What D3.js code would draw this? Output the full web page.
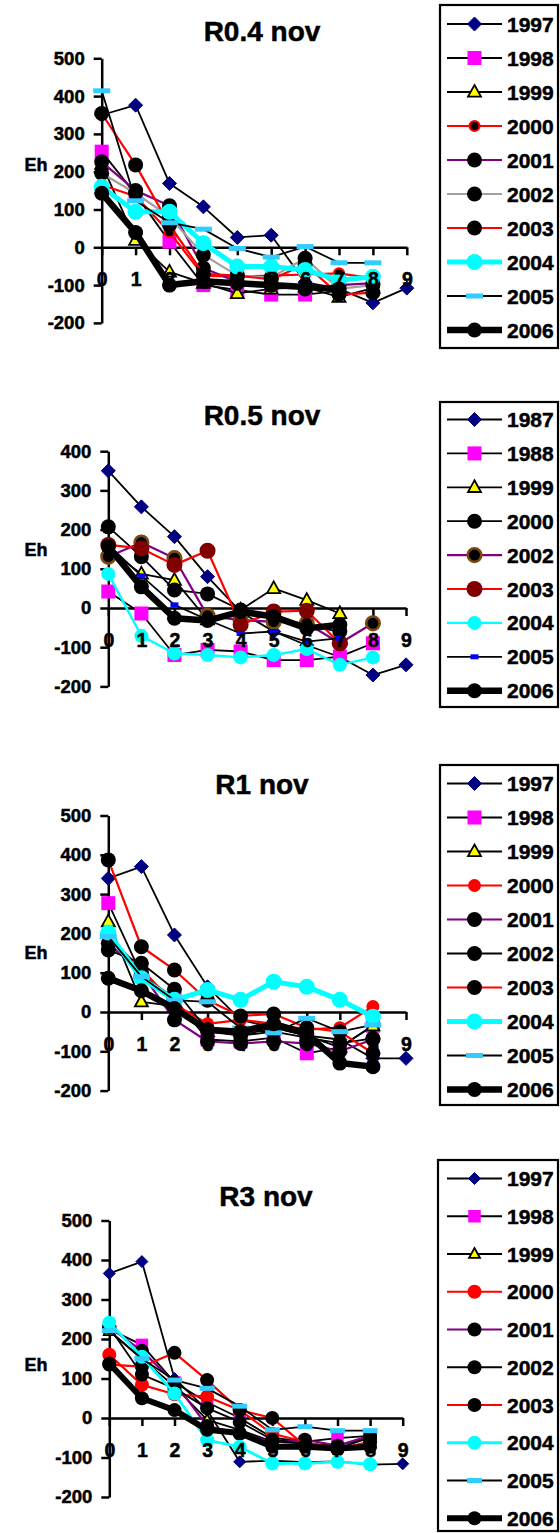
<!DOCTYPE html>
<html>
<head>
<meta charset="utf-8">
<script src="https://cdn.jsdelivr.net/npm/d3@7"></script>
<style>
  html, body { margin: 0; padding: 0; background: #fff; }
</style>
</head>
<body>
<script>
// ---- Data ---------------------------------------------------------------
const categories = [0, 1, 2, 3, 4, 5, 6, 7, 8, 9];

// R0.4 nov
const r04Ticks = [-200, -100, 0, 100, 200, 300, 400, 500];
const r04Years = ["1997", "1998", "1999", "2000", "2001", "2002", "2003", "2004", "2005", "2006"];
const r04_1997 = [350, 376, 169, 107, 26, 32, -92, -110, -147, -108];
const r04_1998 = [253, 140, 15, -100, -113, -125, -125, -115, null, null];
const r04_1999 = [220, 19, -65, -95, -122, -110, -105, -132, -108, null];
const r04_2000 = [165, 135, 40, -75, -78, -75, -72, -69, -82, null];
const r04_2001 = [226, 150, 110, -55, -92, -100, -110, -100, -95, null];
const r04_2002 = [196, 143, 81, -20, -75, -80, -29, -110, -100, null];
const r04_2003 = [354, 218, 59, -70, -75, -85, -45, -125, -120, null];
const r04_2004 = [160, 94, 94, 11, -51, -51, -60, -87, -78, null];
const r04_2005 = [414, 123, 65, 48, -3, -26, 2, -41, -41, null];
const r04_2006 = [143, 39, -100, -90, -95, -100, -105, -110, null, null];

// R0.5 nov
const r05Ticks = [-200, -100, 0, 100, 200, 300, 400];
const r05Years = ["1987", "1988", "1999", "2000", "2002", "2003", "2004", "2005", "2006"];
const r05_1987 = [350, 258, 182, 80, -10, -60, -95, -125, -171, -145];
const r05_1988 = [42, -14, -120, -107, -111, -133, -133, -124, -90, null];
const r05_1999 = [150, 87, 71, -30, -5, 50, 20, -14, null, null];
const r05_2000 = [207, 131, 46, 36, -5, -20, -45, -60, null, null];
const r05_2002 = [131, 167, 127, -20, -31, -35, -39, -90, -39, null];
const r05_2003 = [161, 152, 110, 146, -43, -9, -7, -90, null, null];
const r05_2004 = [87, -71, -116, -120, -126, -120, -105, -145, -126, null];
const r05_2005 = [161, 82, 8, -30, -65, -60, -86, -77, null, null];
const r05_2006 = [157, 54, -26, -32, -9, -22, -52, -43, null, null];

// R1 nov
const r1Ticks = [-200, -100, 0, 100, 200, 300, 400, 500];
const r1Years = ["1997", "1998", "1999", "2000", "2001", "2002", "2003", "2004", "2005", "2006"];
const r1_1997 = [340, 370, 196, 64, -20, -40, -60, -70, -118, -118];
const r1_1998 = [277, 95, 35, -70, -75, -65, -105, -90, -35, null];
const r1_1999 = [230, 26, 15, -50, -60, -40, -60, -90, -35, null];
const r1_2000 = [190, 110, 20, -30, -20, -30, -45, -40, 14, null];
const r1_2001 = [175, 100, -20, -75, -80, -75, -80, -100, -70, null];
const r1_2002 = [158, 124, 58, -46, -60, -50, -65, -80, -67, null];
const r1_2003 = [387, 166, 107, 30, -10, -5, -40, -50, -105, null];
const r1_2004 = [202, 86, 31, 56, 31, 77, 64, 31, -12, null];
const r1_2005 = [192, 90, 30, 26, -41, -53, -16, -50, -33, null];
const r1_2006 = [86, 54, 9, -45, -50, -30, -55, -130, -139, null];

// R3 nov
const r3Ticks = [-200, -100, 0, 100, 200, 300, 400, 500];
const r3Years = ["1997", "1998", "1999", "2000", "2001", "2002", "2003", "2004", "2005", "2006"];
const r3_1997 = [366, 396, 100, 20, -111, -108, -112, -110, -118, -116];
const r3_1998 = [225, 185, 90, 40, 0, -50, -60, -51, -45, null];
const r3_1999 = [220, 150, 80, -5, -30, -60, -65, -70, -50, null];
const r3_2000 = [160, 84, 60, 54, 20, -40, -60, -80, -60, null];
const r3_2001 = [230, 170, 90, -20, -40, -60, -55, -70, -45, null];
const r3_2002 = [230, 110, 75, 25, -10, -55, -65, -77, -50, null];
const r3_2003 = [135, 130, 165, 96, 20, 0, -70, -80, -60, null];
const r3_2004 = [241, 155, 62, -56, -73, -115, -115, -111, -117, null];
const r3_2005 = [221, 150, 96, 75, 30, -30, -22, -32, -32, null];
const r3_2006 = [138, 50, 20, -30, -38, -73, -73, -77, -73, null];

// ---- Series styles ------------------------------------------------------
const S = {
  diamond: { shape: "diamond", fill: "#000080", size: 7, line: "#000", lw: 1.8 },
  square:  { shape: "square", fill: "#FF00FF", size: 14, line: "#000", lw: 1.8 },
  tri:     { shape: "triangle", fill: "#FFFF00", stroke: "#000", size: 13, line: "#000", lw: 1.8 },
  dot: (line, lw, fill, r, stroke, sw) => ({ shape: "circle", fill, r, stroke, sw, line, lw }),
  dash: (fill, w, h) => ({ shape: "dash", fill, w, h, line: "#000", lw: 1.8 })
};

const panels = [
  {
    title: "R0.4 nov", titleX: 262, titleY: 41, ticks: r04Ticks,
    xRange: [101.7, 406.8], yRange: [322.9, 58.3], ehY: 171,
    legend: { x: 440, y: 5, w: 118, h: 343, row0: 24, step: 34 },
    names: r04Years,
    values: [r04_1997, r04_1998, r04_1999, r04_2000, r04_2001, r04_2002, r04_2003, r04_2004, r04_2005, r04_2006],
    styles: [
      S.diamond, S.square, S.tri,
      S.dot("#FF0000", 2.2, "#000", 5, "#FF0000", 2.2),
      S.dot("#800080", 2.2, "#000", 7.5),
      S.dot("#A0A0A0", 2.2, "#000", 7.5),
      S.dot("#FF0000", 2.2, "#000", 7.5),
      S.dot("#00FFFF", 5, "#00FFFF", 8),
      S.dash("#33CCFF", 17, 5),
      S.dot("#000", 6.5, "#000", 7.5)
    ]
  },
  {
    title: "R0.5 nov", titleX: 262, titleY: 425, ticks: r05Ticks,
    xRange: [108.3, 406], yRange: [686.4, 451.2], ehY: 556,
    legend: { x: 440, y: 402, w: 118, h: 305, row0: 419.5, step: 33.9 },
    names: r05Years,
    values: [r05_1987, r05_1988, r05_1999, r05_2000, r05_2002, r05_2003, r05_2004, r05_2005, r05_2006],
    styles: [
      S.diamond, S.square, S.tri,
      S.dot("#000", 1.8, "#000", 7.5),
      S.dot("#800080", 2.2, "#000", 6.8, "#7A4A10", 2.6),
      S.dot("#FF0000", 2.2, "#800000", 8),
      S.dot("#00FFFF", 2.4, "#00FFFF", 7),
      S.dash("#0000FF", 8, 5),
      S.dot("#000", 6.5, "#000", 7.5)
    ]
  },
  {
    title: "R1 nov", titleX: 262, titleY: 794, ticks: r1Ticks,
    xRange: [108.3, 406], yRange: [1090.6, 815.5], ehY: 959,
    legend: { x: 440, y: 765, w: 118, h: 340, row0: 783.5, step: 34 },
    names: r1Years,
    values: [r1_1997, r1_1998, r1_1999, r1_2000, r1_2001, r1_2002, r1_2003, r1_2004, r1_2005, r1_2006],
    styles: [
      S.diamond, S.square, S.tri,
      S.dot("#FF0000", 2.2, "#FF0000", 6.5),
      S.dot("#800080", 2.2, "#000", 7.5),
      S.dot("#000", 1.8, "#000", 7.5),
      S.dot("#FF0000", 2.2, "#000", 7.5),
      S.dot("#00FFFF", 5, "#00FFFF", 8),
      S.dash("#33CCFF", 17, 5),
      S.dot("#000", 6.5, "#000", 7.5)
    ]
  },
  {
    title: "R3 nov", titleX: 266, titleY: 1206, ticks: r3Ticks,
    xRange: [109.3, 402.7], yRange: [1497, 1220.5], ehY: 1371,
    legend: { x: 438, y: 1160, w: 120, h: 371, row0: 1178.5, step: 37.75 },
    names: r3Years,
    values: [r3_1997, r3_1998, r3_1999, r3_2000, r3_2001, r3_2002, r3_2003, r3_2004, r3_2005, r3_2006],
    styles: [
      Object.assign({}, S.diamond, { size: 6 }),
      Object.assign({}, S.square, { size: 12.5 }),
      Object.assign({}, S.tri, { size: 11 }),
      S.dot("#FF0000", 2.2, "#FF0000", 7),
      S.dot("#800080", 2.2, "#000", 7),
      S.dot("#000", 1.8, "#000", 7),
      S.dot("#FF0000", 2.2, "#000", 7),
      S.dot("#00FFFF", 2.8, "#00FFFF", 7),
      S.dash("#33CCFF", 15, 5),
      S.dot("#000", 6, "#000", 7)
    ]
  }
];

// ---- Drawing ------------------------------------------------------------
const svg = d3.select("body").append("svg")
  .attr("width", 560).attr("height", 1533);

// Heavy bold lettering used throughout the charts
function boldText(sel, size) {
  sel.attr("font-family", "'Liberation Sans', Arial, sans-serif")
    .attr("font-weight", 700).attr("font-size", size).attr("fill", "#000")
    .attr("stroke", "#000").attr("stroke-width", 0.5);
}

function marker(g, st, cx, cy) {
  if (st.shape === "circle") {
    g.append("circle").attr("cx", cx).attr("cy", cy).attr("r", st.r)
      .attr("fill", st.fill)
      .attr("stroke", st.stroke || "none").attr("stroke-width", st.sw || 0);
  } else if (st.shape === "diamond") {
    const s = st.size;
    g.append("path")
      .attr("d", `M${cx},${cy - s}L${cx + s},${cy}L${cx},${cy + s}L${cx - s},${cy}Z`)
      .attr("fill", st.fill).attr("stroke", st.fill).attr("stroke-width", 1);
  } else if (st.shape === "square") {
    const s = st.size;
    g.append("rect").attr("x", cx - s / 2).attr("y", cy - s / 2)
      .attr("width", s).attr("height", s).attr("fill", st.fill);
  } else if (st.shape === "triangle") {
    const s = st.size;
    const h = s * 0.9;
    g.append("path")
      .attr("d", `M${cx},${cy - h * 0.6}L${cx + s / 2},${cy + h * 0.4}L${cx - s / 2},${cy + h * 0.4}Z`)
      .attr("fill", st.fill).attr("stroke", st.stroke).attr("stroke-width", 1.8)
      .attr("stroke-linejoin", "miter");
  } else if (st.shape === "dash") {
    g.append("rect").attr("x", cx - st.w / 2).attr("y", cy - st.h / 2)
      .attr("width", st.w).attr("height", st.h).attr("fill", st.fill);
  }
}

panels.forEach(p => {
  const g = svg.append("g");
  const x = d3.scaleLinear().domain([0, 9]).range(p.xRange);
  const y = d3.scaleLinear().domain([d3.min(p.ticks), d3.max(p.ticks)]).range(p.yRange);

  // Title
  g.append("text").attr("x", p.titleX).attr("y", p.titleY)
    .attr("text-anchor", "middle").call(boldText, 28).text(p.title);

  // Y axis label
  g.append("text").attr("x", 36).attr("y", p.ehY)
    .attr("text-anchor", "middle").call(boldText, 18).text("Eh");

  // Y axis
  const yAxis = g.append("g").attr("transform", `translate(${p.xRange[0]},0)`)
    .call(d3.axisLeft(y).tickValues(p.ticks).tickSize(8).tickSizeOuter(0)
      .tickPadding(9).tickFormat(d => String(d)));
  yAxis.attr("font-family", null).attr("font-size", null);
  yAxis.selectAll("path, line").attr("stroke", "#000").attr("stroke-width", 2.5);
  yAxis.selectAll("text").call(boldText, 18.5);

  // X axis line and ticks (under the series)
  const xAxisLine = g.append("g").attr("transform", `translate(0,${y(0)})`)
    .call(d3.axisBottom(x).tickValues(categories).tickSize(8).tickSizeOuter(0).tickFormat(""));
  xAxisLine.selectAll("path, line").attr("stroke", "#000").attr("stroke-width", 2.5);

  // Series: line then markers
  const line = d3.line().defined(d => d.v !== null).x(d => x(d.c)).y(d => y(d.v));
  p.values.forEach((vals, i) => {
    const st = p.styles[i];
    const pts = categories.map((c, k) => ({ c, v: vals[k] === undefined ? null : vals[k] }));
    const sg = g.append("g");
    sg.append("path").attr("d", line(pts)).attr("fill", "none")
      .attr("stroke", st.line).attr("stroke-width", st.lw)
      .attr("stroke-linejoin", "round").attr("stroke-linecap", "round");
    pts.filter(d => d.v !== null).forEach(d => marker(sg, st, x(d.c), y(d.v)));
  });

  // X tick labels on top
  const xLabels = g.append("g").attr("transform", `translate(0,${y(0)})`)
    .call(d3.axisBottom(x).tickValues(categories).tickSize(0).tickSizeOuter(0)
      .tickPadding(25).tickFormat(d => String(d)));
  xLabels.attr("font-family", null).attr("font-size", null);
  xLabels.select(".domain").remove();
  xLabels.selectAll("text").call(boldText, 19.5);

  // Legend
  const L = p.legend;
  const lg = g.append("g");
  lg.append("rect").attr("x", L.x).attr("y", L.y).attr("width", L.w).attr("height", L.h)
    .attr("fill", "#fff").attr("stroke", "#000").attr("stroke-width", 2.2);
  p.names.forEach((name, i) => {
    const st = p.styles[i];
    const cy = L.row0 + i * L.step;
    lg.append("line").attr("x1", 447).attr("x2", 502).attr("y1", cy).attr("y2", cy)
      .attr("stroke", st.line).attr("stroke-width", st.lw);
    marker(lg, st, 474.5, cy);
    lg.append("text").attr("x", 507).attr("y", cy + 7.5)
      .call(boldText, 21).text(name);
  });
});
</script>
</body>
</html>
